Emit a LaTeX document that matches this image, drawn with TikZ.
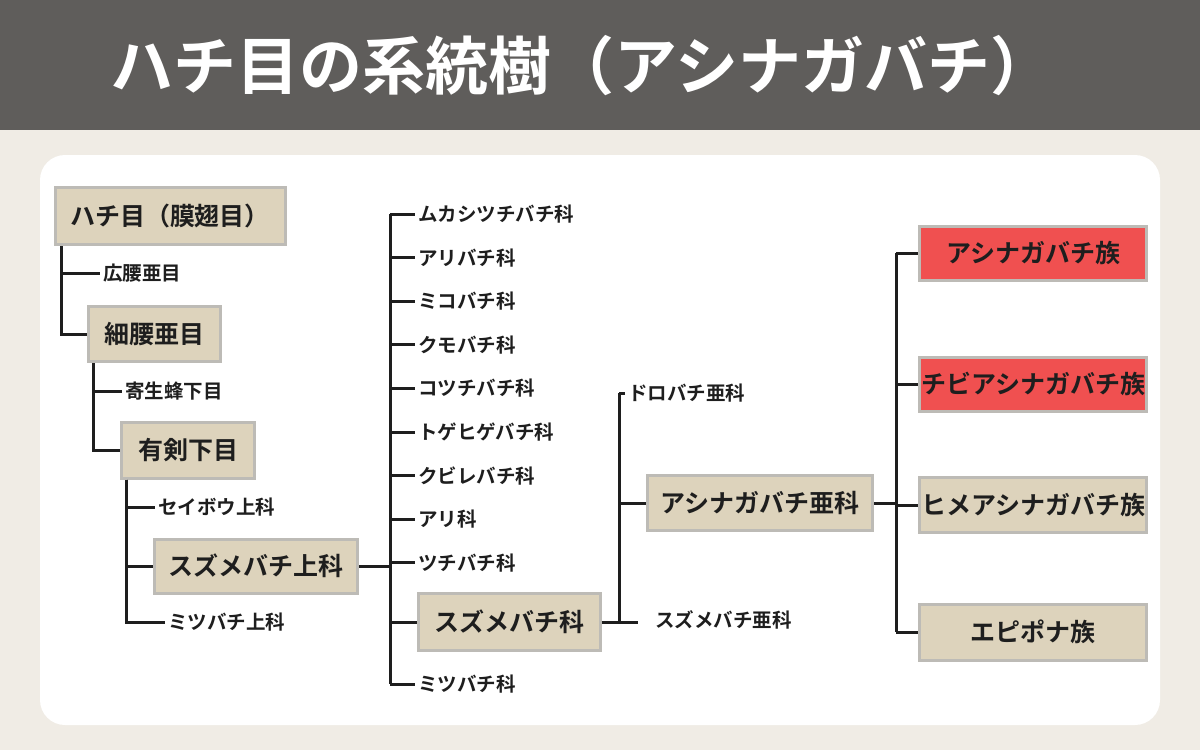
\documentclass[tikz,border=0pt]{standalone}
\usepackage{fontspec}
\setmainfont{Noto Sans CJK JP}[BoldFont={* Bold}]
\usetikzlibrary{positioning}

\definecolor{headgray}{HTML}{5F5D5B}
\definecolor{paper}{HTML}{F0ECE5}
\definecolor{tan}{HTML}{DDD3BC}
\definecolor{rim}{HTML}{BDBBB6}
\definecolor{hot}{HTML}{F05050}
\definecolor{ink}{HTML}{1E1E1E}

\tikzset{
	taxon/.style = {draw = rim, line width = 3, fill = tan, inner sep = 0,
		font = \bfseries\fontsize{25}{29}\selectfont, text = ink},
	tag/.style = {anchor = west, inner sep = 3, text = ink,
		font = \bfseries\fontsize{19.5}{23}\selectfont},
	branch/.style = {line width = 3, ink}
}

\begin{document}
\begin{tikzpicture}[x = 1pt, y = -1pt]

	% Background, header and panel
	
	\fill [paper] (0, 0) rectangle (1200, 750);
	\fill [headgray] (0, 0) rectangle (1200, 130);
	\node (title) [white, font = \bfseries\fontsize{63}{70}\selectfont] at (582, 66) {ハチ目の系統樹（アシナガバチ）};
	\fill [white, rounded corners = 25] (40, 155) rectangle (1160, 725);
	
	% Left ladder
	
	\node (order) [taxon, minimum width = 230, minimum height = 57] at (170, 216) {ハチ目（膜翅目）};
	\node (hirozu) [tag] at (100, 273) {広腰亜目};
	\node (saiyo) [taxon, minimum width = 132, minimum height = 55] at (154, 334) {細腰亜目};
	\node (kisei) [tag] at (122, 391) {寄生蜂下目};
	\node (yuken) [taxon, minimum width = 133, minimum height = 56] at (188, 450) {有剣下目};
	\node (seibou) [tag] at (155, 507) {セイボウ上科};
	\node (suzuup) [taxon, minimum width = 203, minimum height = 54] at (256, 566) {スズメバチ上科};
	\node (mitsuup) [tag] at (165, 622) {ミツバチ上科};
	
	\begin{scope}[branch]
	
		\draw ([xshift = 8] order.south west) |- (hirozu.west);
		\draw ([xshift = 8] order.south west) |- (saiyo.west);
		\draw ([xshift = 7] saiyo.south west) |- (kisei.west);
		\draw ([xshift = 7] saiyo.south west) |- (yuken.west);
		\draw ([xshift = 6] yuken.south west) |- (seibou.west);
		\draw ([xshift = 6] yuken.south west) |- (suzuup.west);
		\draw ([xshift = 6] yuken.south west) |- (mitsuup.west);
		
	\end{scope}
	
	% Families
	
	\coordinate (trunkA) at (390, 566);
	
	\foreach \name [count = \i] in {ムカシツチバチ科, アリバチ科, ミコバチ科, クモバチ科,
		コツチバチ科, トゲヒゲバチ科, クビレバチ科, アリ科, ツチバチ科}
		\node (fam\i) [tag] at (415, {214 + 43.6 * (\i - 1)}) {\name};
	
	\node (suzuka) [taxon, minimum width = 182, minimum height = 57] at (509, 622) {スズメバチ科};
	\node (mitsuka) [tag] at (415, 684) {ミツバチ科};
	
	\begin{scope}[branch]
	
		\draw (suzuup.east) -- (trunkA);
		\draw (fam1.west -| trunkA) -- (mitsuka.west -| trunkA);
		\foreach \i in {1, ..., 9}
			\draw (fam\i.west -| trunkA) -- (fam\i.west);
		\draw (suzuka.west -| trunkA) -- (suzuka.west);
		\draw (mitsuka.west -| trunkA) -- (mitsuka.west);
		
	\end{scope}
	
	% Subfamilies
	
	\coordinate (trunkB) at (619, 503);
	
	\node (dorobachi) [tag] at (625, 393) {ドロバチ亜科};
	\node (ashinaga) [taxon, minimum width = 225, minimum height = 55] at (760, 503) {アシナガバチ亜科};
	\node (suzuaka) [tag] at (652, 620) {スズメバチ亜科};
	
	\begin{scope}[branch]
	
		\draw (suzuka.east) -- ([xshift = -14] suzuaka.west |- suzuka.east);
		\draw (dorobachi.west -| trunkB) -- (suzuka.east -| trunkB);
		\draw (dorobachi.west -| trunkB) -- (dorobachi.west);
		\draw (trunkB) -- (ashinaga.west);
		
	\end{scope}
	
	% Tribes
	
	\coordinate (trunkC) at (896, 503);
	
	\node (t1) [taxon, fill = hot, minimum width = 227, minimum height = 54] at (1033, 253) {アシナガバチ族};
	\node (t2) [taxon, fill = hot, minimum width = 227, minimum height = 54] at (1033, 384) {チビアシナガバチ族};
	\node (t3) [taxon, minimum width = 227, minimum height = 55] at (1033, 505) {ヒメアシナガバチ族};
	\node (t4) [taxon, minimum width = 227, minimum height = 56] at (1033, 632) {エピポナ族};
	
	\begin{scope}[branch]
	
		\draw (ashinaga.east) -- (trunkC);
		\draw (t1.west -| trunkC) -- (t4.west -| trunkC);
		\foreach \i in {1, ..., 4}
			\draw (t\i.west -| trunkC) -- (t\i.west);
		
	\end{scope}
		
\end{tikzpicture}
\end{document}
